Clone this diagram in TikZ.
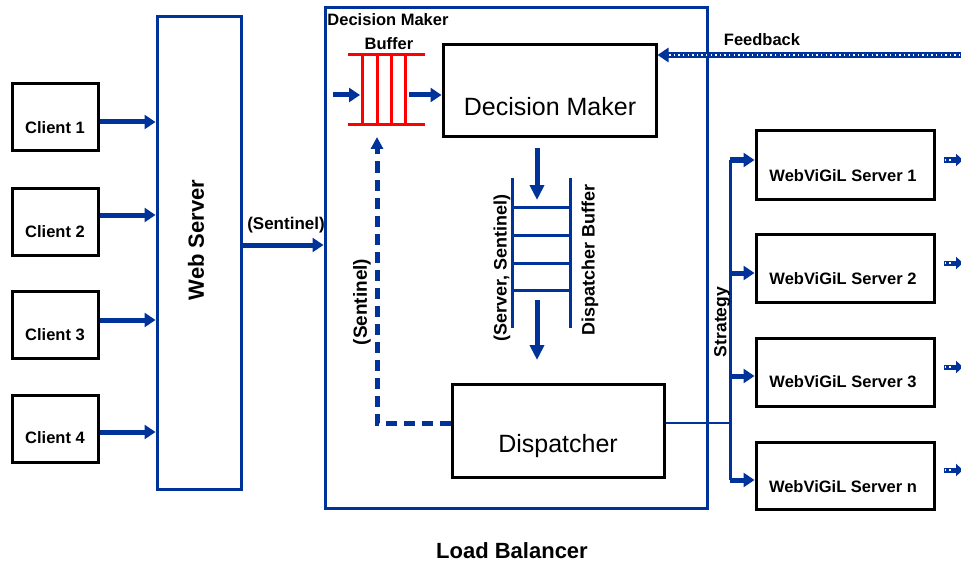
\documentclass[tikz,border=0pt]{standalone}
\usepackage{fontspec}
\setmainfont{Liberation Sans}
\usetikzlibrary{arrows.meta}
\definecolor{lbblue}{RGB}{0,51,153}
\definecolor{lbred}{RGB}{255,0,0}
\begin{document}
\begin{tikzpicture}[x=1pt,y=-1pt,
  box/.style={draw=black, line width=3pt, inner sep=0pt},
  bluebox/.style={draw=lbblue, line width=3pt, inner sep=0pt},
  lbl/.style={font=\bfseries\fontsize{16.5}{18}\selectfont, inner sep=0pt},
  rlbl/.style={font=\bfseries\fontsize{18}{20}\selectfont, inner sep=0pt, rotate=90},
  bigtxt/.style={font=\fontsize{25}{28}\selectfont, inner sep=0pt},
  flow/.style={draw=lbblue, line width=5pt, -{Triangle[length=11pt,width=14pt]}},
  bigflow/.style={draw=lbblue, line width=5pt, -{Triangle[length=15pt,width=14pt]}},
  redline/.style={draw=lbred, line width=3pt},
  bufline/.style={draw=lbblue, line width=3pt},
  busline/.style={draw=lbblue, line width=3pt},
  dashflow/.style={draw=lbblue, line width=5pt, dash pattern=on 11pt off 7pt, -{Triangle[length=12pt,width=12pt]}},
  fbline/.style={draw=lbblue, line width=6pt},
  fbdots/.style={draw=white, line width=1.4pt, dash pattern=on 1.4pt off 3.2pt},
]
\useasboundingbox (0,0) rectangle (961,567);

% clients
\node[box, minimum width=86pt, minimum height=67pt] (c1) at (55,117.5) {};
\node[box, minimum width=86pt, minimum height=67pt] (c2) at (55,221.5) {};
\node[box, minimum width=86pt, minimum height=67pt] (c3) at (55,324.5) {};
\node[box, minimum width=86pt, minimum height=67pt] (c4) at (55,428.5) {};
\node[lbl] (t1) at (55,128) {Client 1};
\node[lbl] (t2) at (55,232) {Client 2};
\node[lbl] (t3) at (55,335) {Client 3};
\node[lbl] (t4) at (55,438) {Client 4};

% web server
\node[bluebox, minimum width=84pt, minimum height=472pt] (ws) at (199,253) {};
\node[font=\bfseries\fontsize{22}{24}\selectfont, inner sep=0pt, rotate=90] (wst) at (196,240) {Web Server};

\draw[flow] (c1.east |- 0,122) -- (ws.west |- 0,122);
\draw[flow] (c2.east |- 0,215) -- (ws.west |- 0,215);
\draw[flow] (c3.east |- 0,320) -- (ws.west |- 0,320);
\draw[flow] (c4.east |- 0,432) -- (ws.west |- 0,432);

% load balancer
\node[bluebox, minimum width=382pt, minimum height=500pt] (lb) at (516,258) {};
\node[font=\bfseries\fontsize{22}{24}\selectfont, inner sep=0pt] (lbt) at (512,551) {Load Balancer};
\node[lbl] (dmt) at (388,20) {Decision Maker};
\node[lbl] (buft) at (389,44) {Buffer};

\draw[flow] (ws.east |- 0,245) -- (lb.west |- 0,245);
\node[lbl, font=\bfseries\fontsize{17}{18}\selectfont] (sent) at (286,225) {(Sentinel)};

% decision maker buffer
\coordinate (bufin) at (360,95);
\coordinate (bufbot) at (377,125);
\draw[redline] (348,55) -- (425,55);
\draw[redline] (348,125) -- (425,125);
\foreach \x in {362,377,391,405} \draw[redline] (\x,55) -- (\x,125);

% decision maker
\node[box, minimum width=213pt, minimum height=92pt] (dm) at (549.5,91) {};
\node[bigtxt] (dmtx) at (550,107) {Decision Maker};
\coordinate (inlet) at (333,95);
\draw[flow] (inlet) -- (bufin);
\draw[flow] (409,95) -- (dm.west |- 0,95);

% feedback
\coordinate (fbstart) at (965,55);
\draw[fbline, -{Triangle[length=11pt,width=14pt]}] (fbstart) -- (dm.east |- 0,55);
\draw[fbdots] (fbstart) -- (668,55);
\node[lbl] (fbt) at (762,40) {Feedback};

% dispatcher buffer
\draw[bufline] (512,178) -- (512,328);
\draw[bufline] (570,178) -- (570,328);
\foreach \y in {207,235,263,290} \draw[bufline] (512,\y) -- (570,\y);
\draw[bigflow] (537,148) -- (537,200);
\draw[bigflow] (537,300) -- (537,360);
\node[rlbl] (sst) at (502,268) {(Server, Sentinel)};
\node[rlbl] (dbt) at (590,260) {Dispatcher Buffer};

% dispatcher
\node[box, minimum width=212pt, minimum height=93pt] (disp) at (558,430.5) {};
\node[bigtxt] (dispt) at (558,446) {Dispatcher};

% sentinel feedback to buffer
\draw[dashflow] (disp.west |- 0,423) -- (377,423) -- (377,137);
\node[rlbl, font=\bfseries\fontsize{19}{20}\selectfont] (sent2) at (362,302) {(Sentinel)};

% servers
\node[box, minimum width=178pt, minimum height=68pt] (s1) at (845,165) {};
\node[box, minimum width=178pt, minimum height=68pt] (s2) at (845,268) {};
\node[box, minimum width=178pt, minimum height=68pt] (s3) at (845,372) {};
\node[box, minimum width=178pt, minimum height=67pt] (sn) at (845,475.5) {};
\node[lbl] (s1t) at (843,176) {WebViGiL Server 1};
\node[lbl] (s2t) at (843,279) {WebViGiL Server 2};
\node[lbl] (s3t) at (843,382) {WebViGiL Server 3};
\node[lbl] (snt) at (843,487) {WebViGiL Server n};

% strategy bus
\coordinate (busj) at (730,423);
\draw[draw=lbblue, line width=2.5pt] (disp.east |- busj) -- (busj);
\draw[busline] (730,160) -- (730,480);
\draw[flow] (730,160) -- (s1.west |- 0,160);
\draw[flow] (730,273) -- (s2.west |- 0,273);
\draw[flow] (730,376) -- (s3.west |- 0,376);
\draw[flow] (730,480) -- (sn.west |- 0,480);
\node[rlbl, font=\bfseries\fontsize{17.5}{19}\selectfont] (strt) at (722,322) {Strategy};

% small outgoing feedback arrows
\foreach \y/\s in {160/s1,263/s2,367/s3,470/sn}{
  \draw[draw=lbblue, line width=5pt, -{Triangle[length=7pt,width=12pt]}] (\s.east |- 0,\y) ++(8,0) -- (963,\y);
  \draw[fbdots] (\s.east |- 0,\y) ++(9,0) -- (952,\y);
}
\end{tikzpicture}
\end{document}
